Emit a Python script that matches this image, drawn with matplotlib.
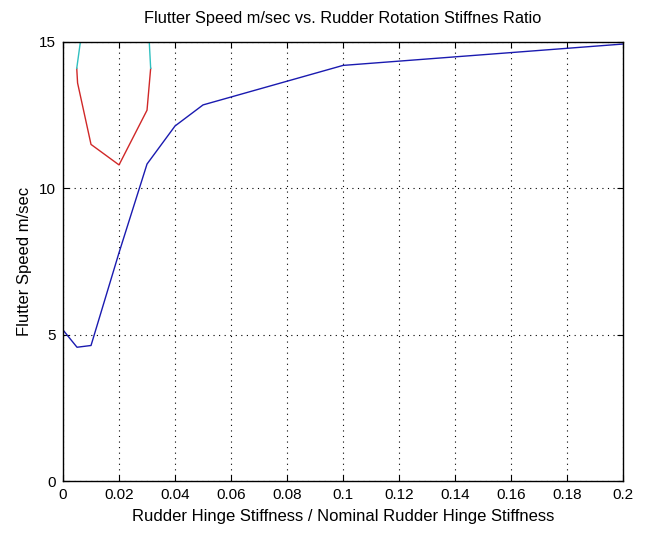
import numpy as np
import matplotlib
matplotlib.use("Agg")
import matplotlib.pyplot as plt

# ===================== 数据 =====================
# blue mode
blue_x = [0.0, 0.005, 0.01, 0.02, 0.03, 0.04, 0.05, 0.1, 0.2]
blue_y = [5.16, 4.57, 4.63, 7.8, 10.83, 12.13, 12.85, 14.2, 14.93]

# red mode (closed-ish branch)
red_x = [0.0049, 0.0052, 0.01, 0.02, 0.03, 0.0313]
red_y = [14.1, 13.6, 11.5, 10.8, 12.67, 14.1]

# cyan segments above the red one
cyan_left_x = [0.0049, 0.0062]
cyan_left_y = [14.1, 15.0]
cyan_right_x = [0.0313, 0.0308]
cyan_right_y = [14.1, 15.0]

x_ticks = [0, 0.02, 0.04, 0.06, 0.08, 0.1, 0.12, 0.14, 0.16, 0.18, 0.2]
x_tick_labels = ["0", "0.02", "0.04", "0.06", "0.08", "0.1", "0.12", "0.14", "0.16", "0.18", "0.2"]
y_ticks = [0, 5, 10, 15]

# ===================== 绘图 =====================
plt.rcParams["font.family"] = ["Liberation Sans", "DejaVu Sans"]

fig = plt.figure(figsize=(6.45, 5.39), dpi=100)
ax = fig.add_axes([0.0977, 0.1076, 0.8683, 0.8145])

ax.plot(blue_x, blue_y, color="#1a1ab0", lw=1.0)
ax.plot(red_x, red_y, color="#d02828", lw=1.0)
ax.plot(cyan_left_x, cyan_left_y, color="#30c0c0", lw=1.0)
ax.plot(cyan_right_x, cyan_right_y, color="#30c0c0", lw=1.0)

ax.set_xlim(0, 0.2)
ax.set_ylim(0, 15)
ax.set_xticks(x_ticks)
ax.set_xticklabels(x_tick_labels)
ax.set_yticks(y_ticks)
ax.grid(True, color="black", linestyle=(0, (1, 4)), lw=0.8)
ax.tick_params(direction="in", top=True, right=True, labelsize=11, length=4, pad=5)
for s in ax.spines.values():
    s.set_linewidth(1.0)

ax.set_title("Flutter Speed m/sec vs. Rudder Rotation Stiffnes Ratio", fontsize=11.8, pad=14)
ax.set_xlabel("Rudder Hinge Stiffness / Nominal Rudder Hinge Stiffness", fontsize=12, labelpad=5)
ax.set_ylabel("Flutter Speed m/sec", fontsize=12, labelpad=5)

fig.savefig("out.png", dpi=100)
